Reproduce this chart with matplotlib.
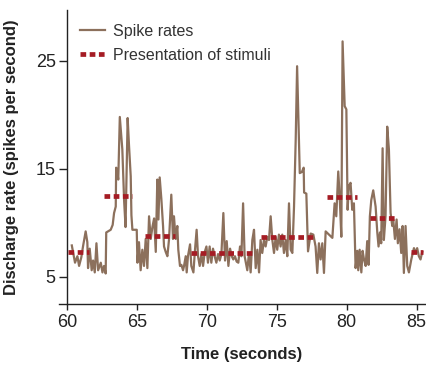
import matplotlib
matplotlib.use("Agg")
import matplotlib.pyplot as plt

plt.rcParams['font.family'] = ['Liberation Sans', 'DejaVu Sans']

# spike rate trace (time in s, rate in spikes/s)
time = [60.36, 60.59, 60.76, 60.88, 61.04, 61.16, 61.35, 61.47, 61.52, 61.64,
        61.78, 61.88, 62.00, 62.12, 62.24, 62.43, 62.55, 62.66, 62.78, 62.82,
        63.14, 63.28, 63.38, 63.50, 63.53, 63.62, 63.68, 63.79, 63.97, 64.10,
        64.20, 64.35, 64.45, 64.57, 64.62, 64.69, 65.00, 65.05, 65.16, 65.28,
        65.40, 65.52, 65.64, 65.76, 65.88, 66.00, 66.12, 66.24, 66.36, 66.47,
        66.55, 66.64, 66.76, 66.88, 66.95, 67.07, 67.19, 67.31, 67.47, 67.59,
        67.66, 67.78, 67.90, 67.97, 68.09, 68.19, 68.31, 68.38, 68.50, 68.57,
        68.66, 68.81, 68.90, 69.05, 69.17, 69.28, 69.38, 69.50, 69.62, 69.74,
        69.86, 69.98, 70.09, 70.21, 70.33, 70.45, 70.57, 70.69, 70.81, 70.93,
        71.05, 71.19, 71.31, 71.43, 71.55, 71.67, 71.79, 71.90, 72.02, 72.14,
        72.26, 72.38, 72.48, 72.60, 72.71, 72.90, 73.02, 73.14, 73.26, 73.38,
        73.50, 73.62, 73.74, 73.85, 73.97, 74.09, 74.21, 74.33, 74.45, 74.57,
        74.69, 74.81, 74.93, 75.04, 75.16, 75.28, 75.40, 75.52, 75.64, 75.76,
        75.88, 76.00, 76.12, 76.24, 76.36, 76.46, 76.65, 76.80, 76.93, 76.96,
        77.12, 77.24, 77.43, 77.62, 77.78, 77.90, 78.02, 78.14, 78.26, 78.38,
        78.50, 78.74, 78.98, 79.14, 79.26, 79.40, 79.50, 79.62, 79.71, 79.86,
        79.98, 80.07, 80.16, 80.28, 80.40, 80.52, 80.64, 80.76, 80.83, 80.93,
        81.05, 81.14, 81.24, 81.36, 81.47, 81.57, 81.66, 81.76, 81.90, 82.07,
        82.19, 82.28, 82.38, 82.47, 82.57, 82.66, 82.78, 82.90, 83.02, 83.14,
        83.26, 83.33, 83.45, 83.57, 83.66, 83.78, 83.90, 84.00, 84.09, 84.21,
        84.33, 84.45, 84.62, 84.81, 84.95, 85.04, 85.16, 85.28, 85.40]
rate = [7.9, 6.3, 6.9, 6.0, 6.8, 7.8, 9.2, 8.2, 5.8, 7.6,
        5.6, 6.5, 5.4, 8.1, 5.6, 6.3, 5.4, 6.0, 5.3, 9.1,
        9.35, 9.8, 10.9, 11.5, 15.1, 14.6, 14.0, 19.8, 16.8, 12.0,
        9.6, 19.7, 17.1, 14.3, 10.7, 9.35, 9.35, 6.3, 8.2, 5.6,
        7.5, 6.0, 8.5, 5.8, 10.6, 8.5, 9.6, 10.4, 7.3, 14.0,
        10.3, 14.2, 12.2, 9.7, 7.8, 7.3, 6.9, 8.5, 12.6, 8.5,
        10.6, 8.5, 9.7, 7.5, 6.0, 6.1, 5.6, 6.0, 6.9, 5.4,
        6.9, 8.0, 6.0, 5.4, 7.6, 9.35, 6.9, 6.0, 7.1, 6.0,
        7.3, 7.8, 6.3, 7.8, 6.3, 7.6, 6.9, 6.3, 7.1, 6.5,
        7.1, 10.9, 6.5, 8.3, 6.0, 7.6, 6.9, 6.6, 6.9, 6.4,
        6.3, 7.8, 6.9, 11.8, 6.9, 5.6, 7.2, 5.4, 8.4, 9.35,
        5.8, 7.5, 5.4, 8.4, 7.2, 8.4, 7.8, 8.7, 8.4, 10.6,
        8.4, 7.2, 8.7, 7.5, 8.9, 7.8, 8.9, 7.2, 8.4, 6.9,
        11.8, 7.5, 7.2, 11.5, 17.7, 24.5, 14.6, 14.7, 15.1, 12.8,
        12.7, 7.35, 9.0, 8.9, 7.8, 5.35, 8.1, 6.6, 8.1, 5.35,
        9.2, 8.9, 8.6, 11.8, 10.6, 14.75, 12.5, 8.7, 26.8, 20.8,
        20.5, 11.2, 13.4, 13.7, 11.2, 11.8, 5.8, 7.4, 5.6, 7.5,
        5.4, 7.4, 6.6, 6.0, 8.3, 6.1, 10.6, 12.1, 13.0, 11.5,
        9.1, 7.8, 9.1, 8.1, 16.9, 8.4, 10.6, 18.9, 16.8, 10.9,
        9.7, 10.3, 8.5, 10.3, 8.1, 9.4, 7.2, 9.7, 5.35, 9.7,
        6.0, 5.4, 6.6, 7.65, 7.2, 7.65, 6.9, 6.6, 7.3]

# stimulus presentation periods
stim_start = [60.11, 62.69, 65.59, 68.88, 73.86, 78.61, 81.66, 84.57]
stim_end = [61.59, 64.69, 67.74, 73.21, 77.61, 80.71, 83.57, 85.45]
stim_level = [7.3, 12.5, 8.8, 7.2, 8.7, 12.4, 10.4, 7.3]

line_col = '#8C705C'
stim_col = '#A51C24'

fig = plt.figure(figsize=(4.27, 3.65), dpi=100)
ax = fig.add_axes([0.139, 0.167, 0.856, 0.806])

ax.plot(time, rate, color=line_col, lw=1.6, label='Spike rates', zorder=2)
for i in range(len(stim_start)):
    ax.plot([stim_start[i], stim_end[i]], [stim_level[i], stim_level[i]],
            color=stim_col, lw=3.4, dashes=(1.2, 0.75), solid_capstyle='butt',
            label='Presentation of stimuli' if i == 0 else None, zorder=3)

ax.set_xlim(59.47, 85.59)
ax.set_ylim(2.47, 29.72)
ax.set_xticks([60, 65, 70, 75, 80, 85])
ax.set_yticks([5, 15, 25])
ax.spines['left'].set_position(('data', 60))
ax.spines['top'].set_visible(False)
ax.spines['right'].set_visible(False)
for s in ['left', 'bottom']:
    ax.spines[s].set_linewidth(1.0)
    ax.spines[s].set_color('#222222')
ax.tick_params(axis='x', length=4, width=1.0, labelsize=13, colors='#222222', pad=3)
ax.tick_params(axis='y', length=6, width=1.0, labelsize=13, colors='#222222', pad=2)

ax.set_xlabel('Time (seconds)', fontsize=12, fontweight='bold', color='#222222', labelpad=12)
ax.set_ylabel('Discharge rate (spikes per second)', fontsize=12, fontweight='bold',
              color='#222222')
ax.yaxis.set_label_coords(-0.11, 0.5)

leg = ax.legend(loc='upper left', bbox_to_anchor=(0.056, 0.952), frameon=False,
                borderaxespad=0, borderpad=0,
                fontsize=11.5, handlelength=1.6, handletextpad=0.5, labelspacing=0.55)
for t in leg.get_texts():
    t.set_color('#333333')

fig.savefig('out.png', dpi=100)
